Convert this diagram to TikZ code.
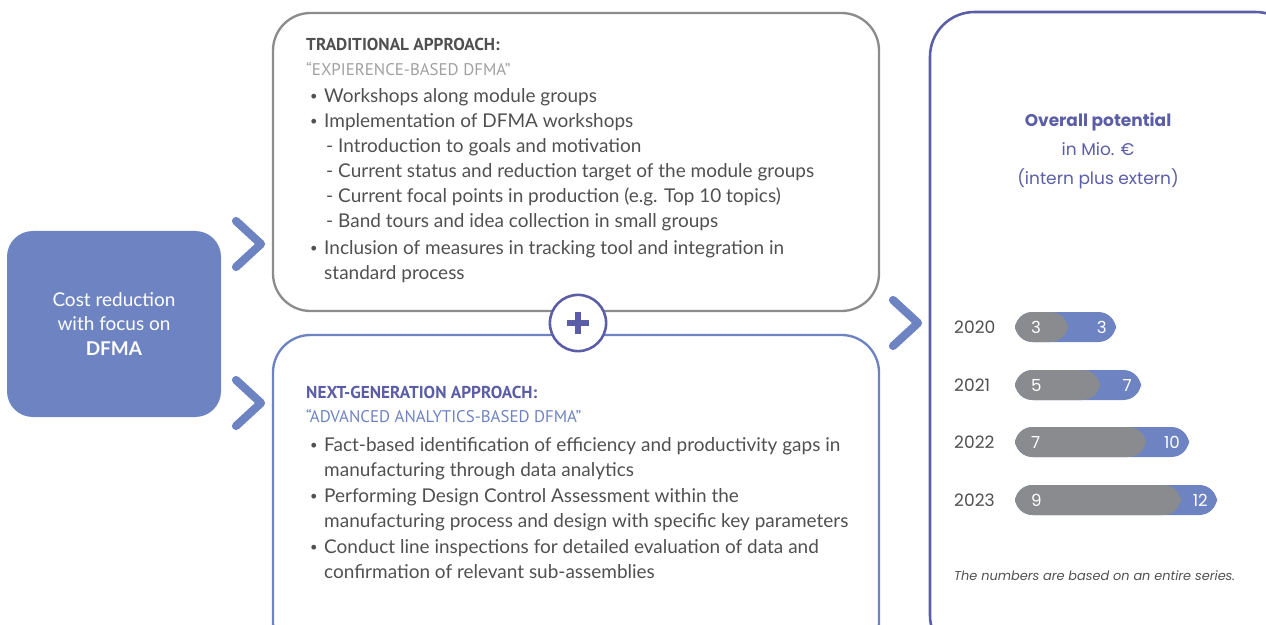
\documentclass[tikz,border=0pt]{standalone}
\usepackage{fontspec}
\setmainfont{Lato}
\newfontfamily\capsfont{PT Sans}
\newfontfamily\geofont{Poppins}
\definecolor{dfmablue}{RGB}{110,132,194}
\definecolor{darkblue}{RGB}{91,94,166}
\definecolor{framegray}{RGB}{140,140,140}
\definecolor{textgray}{RGB}{80,80,80}
\definecolor{lightgray}{RGB}{160,160,160}
\definecolor{bargray}{RGB}{138,139,142}
\tikzset{
  line/.style={anchor=base west, inner sep=0pt, text=textgray, font=\fontsize{16.2}{19}\selectfont},
  dot/.style={line, font=\fontsize{11}{13}\selectfont},
  head/.style={line, font=\capsfont\fontsize{14.7}{19}\selectfont\bfseries},
  sub/.style={line, font=\capsfont\fontsize{14.4}{19}\selectfont},
  chevron/.style={line width=7, dfmablue, line cap=round, line join=round},
  yearlbl/.style={anchor=base west, inner sep=0pt, text=textgray, font=\geofont\fontsize{14.6}{17}\selectfont},
  barlbl/.style={inner sep=0pt, text=white, font=\geofont\fontsize{14.2}{17}\selectfont},
}
\begin{document}
\begin{tikzpicture}[x=0.03cm, y=-0.03cm]
  \useasboundingbox (0,0) rectangle (1266,625);
  \clip (0,0) rectangle (1266,625);
  % left box
  \fill[dfmablue, rounded corners=22] (7,231) rectangle (221,417);
  \node[align=center, text=white, font=\fontsize{16.2}{20.5}\selectfont] (goal) at (114,324)
    {Cost reduction\\with focus on\\\textbf{DFMA}};
  % chevrons
  \draw[chevron] (236,221) -- (261,244) -- (236,267);
  \draw[chevron] (236,380) -- (261,403) -- (236,426);
  \draw[chevron] (893,300) -- (918,323) -- (893,346);
  % frames
  \draw[framegray, line width=2, rounded corners=32] (273,13) rectangle (879,311);
  \draw[dfmablue, line width=2, rounded corners=32] (273,335) rectangle (879,660);
  \draw[darkblue, line width=2.2, rounded corners=38] (930,12) rectangle (1300,660);
  % plus
  \node[circle, draw=darkblue, line width=2.2, fill=white, minimum size=48] (plus) at (578,323) {};
  \draw[darkblue, line width=4.5] (plus.center) ++(-11,0) -- ++(22,0);
  \draw[darkblue, line width=4.5] (plus.center) ++(0,-11) -- ++(0,22);
  % traditional approach
  \node[head] (trh) at (306,51) {TRADITIONAL APPROACH:};
  \node[sub, text=lightgray] (trs) at (306,76) {“EXPIERENCE-BASED DFMA”};
  \node[dot] at (310,101) {•};
  \node[line] (tr1) at (324,103) {Workshops along module groups};
  \node[dot] at (310,126) {•};
  \node[line] (tr2) at (324,128) {Implementation of DFMA workshops};
  \node[line] at (326,153) {-};
  \node[line] (tr3) at (338,153) {Introduction to goals and motivation};
  \node[line] at (326,178) {-};
  \node[line] (tr4) at (338,178) {Current status and reduction target of the module groups};
  \node[line] at (326,203) {-};
  \node[line] (tr5) at (338,203) {Current focal points in production (e.g. Top 10 topics)};
  \node[line] at (326,228) {-};
  \node[line] (tr6) at (338,228) {Band tours and idea collection in small groups};
  \node[dot] at (310,252) {•};
  \node[line] (tr7) at (324,254) {Inclusion of measures in tracking tool and integration in};
  \node[line] (tr8) at (324,279) {standard process};
  % next-generation approach
  \node[head, text=darkblue] (ngh) at (306,398) {NEXT-GENERATION APPROACH:};
  \node[sub, text=dfmablue] (ngs) at (306,422) {“ADVANCED ANALYTICS-BASED DFMA”};
  \node[dot] at (310,449) {•};
  \node[line] (ng1) at (324,451) {Fact-based identification of efficiency and productivity gaps in};
  \node[line] (ng2) at (324,476) {manufacturing through data analytics};
  \node[dot] at (310,500) {•};
  \node[line] (ng3) at (324,502) {Performing Design Control Assessment within the};
  \node[line] (ng4) at (324,527) {manufacturing process and design with specific key parameters};
  \node[dot] at (310,551) {•};
  \node[line] (ng5) at (324,553) {Conduct line inspections for detailed evaluation of data and};
  \node[line] (ng6) at (324,578) {confirmation of relevant sub-assemblies};
  % potential
  \node[align=center, text=darkblue, font=\geofont\fontsize{14.5}{24.5}\selectfont] (pot) at (1098,151)
    {\textbf{Overall potential}\\in Mio. €\\(intern plus extern)};
  % bars
  \foreach \yr/\yy/\gend/\bend/\gval/\bval in
    {2020/327/1068/1116/3/3, 2021/385/1100/1141/5/7, 2022/442/1146/1189/7/10, 2023/500/1181/1217/9/12}{
    \node[yearlbl] (y\yr) at (954,\yy+6) {\yr};
    \fill[dfmablue, rounded corners=15] (1015,\yy-15) rectangle (\bend,\yy+15);
    \fill[bargray, rounded corners=15] (1015,\yy-15) rectangle (\gend,\yy+15);
    \node[barlbl, anchor=base west] (g\yr) at (1031,\yy+6) {\gval};
    \node[barlbl, anchor=base east] (b\yr) at (\bend-9,\yy+6) {\bval};
  }
  \node[anchor=base west, inner sep=0pt, text=textgray, font=\geofont\fontsize{11}{14}\selectfont\itshape] (note)
    at (954,580) {The numbers are based on an entire series.};
\end{tikzpicture}
\end{document}
